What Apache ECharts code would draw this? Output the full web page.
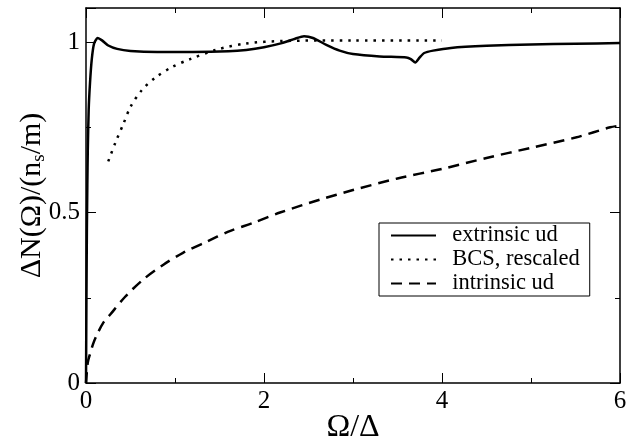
<!DOCTYPE html>
<html>
<head>
<meta charset="utf-8">
<script src="https://cdn.jsdelivr.net/npm/echarts@6/dist/echarts.min.js"></script>
<style>html,body{margin:0;padding:0;background:#fff;}#c{width:639px;height:441px;}</style>
</head>
<body>
<div id="c"></div>
<script>
// extrinsic ud
var extX = [0, 0.005, 0.01, 0.015, 0.02, 0.03, 0.045, 0.065, 0.09, 0.13, 0.18, 0.25, 0.35, 0.5, 0.8, 1.2, 1.6, 1.8, 2.0, 2.2, 2.35, 2.45, 2.55, 2.7, 2.85, 3.0, 3.3, 3.6, 3.65, 3.7, 3.75, 3.8, 3.9, 4.1, 4.5, 5.0, 5.5, 6.0];
var extY = [0, 0.25, 0.45, 0.58, 0.68, 0.8, 0.88, 0.95, 0.995, 1.012, 1.005, 0.99, 0.98, 0.974, 0.971, 0.971, 0.973, 0.977, 0.985, 0.997, 1.01, 1.017, 1.012, 0.992, 0.975, 0.965, 0.958, 0.955, 0.95, 0.94, 0.955, 0.968, 0.975, 0.983, 0.989, 0.993, 0.995, 0.997];
// BCS, rescaled
var bcsX = [0.25, 0.33, 0.42, 0.5, 0.63, 0.78, 0.96, 1.17, 1.47, 1.8, 2.2, 3.0, 4.0];
var bcsY = [0.65, 0.705, 0.76, 0.81, 0.86, 0.896, 0.926, 0.95, 0.978, 0.996, 1.003, 1.005, 1.005];
// intrinsic ud
var intX = [0, 0.02, 0.045, 0.08, 0.12, 0.19, 0.27, 0.44, 0.64, 0.87, 1.09, 1.36, 1.6, 1.88, 2.18, 2.63, 3.0, 3.5, 4.0, 4.5, 5.0, 5.5, 5.89, 6.0];
var intY = [0, 0.06, 0.085, 0.115, 0.14, 0.175, 0.2, 0.253, 0.303, 0.347, 0.382, 0.415, 0.444, 0.47, 0.5, 0.538, 0.566, 0.6, 0.628, 0.66, 0.69, 0.72, 0.75, 0.755];

var seriesNames = ['extrinsic ud', 'BCS, rescaled', 'intrinsic ud'];
var xTitle = 'Ω/Δ';

function pairs(xs, ys) { return xs.map(function (x, i) { return [x, ys[i]]; }); }

var font = 'Liberation Serif';
var chart = echarts.init(document.getElementById('c'));
var tickStyle = { color: '#000', width: 1 };
function xAx(pos, labels) {
  return {
    type: 'value', position: pos, min: 0, max: 6, interval: 2,
    axisLine: { show: true, onZero: false, lineStyle: { color: '#000', width: 1.5 } },
    axisTick: { show: true, inside: true, length: 10, lineStyle: tickStyle },
    minorTick: { show: true, splitNumber: 2, length: 5, lineStyle: tickStyle },
    splitLine: { show: false }, minorSplitLine: { show: false },
    axisLabel: { show: labels, fontFamily: font, fontSize: 25, color: '#000', margin: 6 }
  };
}
function yAx(pos, labels) {
  return {
    type: 'value', position: pos, min: 0, max: 1.1, interval: 0.5,
    axisLine: { show: true, onZero: false, lineStyle: { color: '#000', width: 1.5 } },
    axisTick: { show: true, inside: true, length: 10, lineStyle: tickStyle },
    minorTick: { show: true, splitNumber: 2, length: 5, lineStyle: tickStyle },
    splitLine: { show: false }, minorSplitLine: { show: false },
    axisLabel: { show: labels, fontFamily: font, fontSize: 25, color: '#000', margin: 6,
      showMaxLabel: false,
      formatter: function (v) { return String(v); } }
  };
}
var x0 = xAx('bottom', true);
x0.name = xTitle; x0.nameLocation = 'middle'; x0.nameGap = 29; x0.nameMoveOverlap = false;
x0.nameTextStyle = { fontFamily: font, fontSize: 32, color: '#000' };
var y0 = yAx('left', true);
y0.name = 'ΔN(Ω)/(n{s|s}/m)';
y0.nameLocation = 'middle'; y0.nameGap = 37; y0.nameRotate = 90; y0.nameMoveOverlap = false;
y0.nameTextStyle = { fontFamily: font, fontSize: 30, color: '#000', lineHeight: 34,
  rich: { s: { fontFamily: font, fontSize: 19, color: '#000', lineHeight: 14, verticalAlign: 'bottom' } } };
var x1 = xAx('top', false);
var y1 = yAx('right', false);

chart.setOption({
  animation: false,
  backgroundColor: '#fff',
  color: ['#000', '#000', '#000'],
  grid: { left: 86, right: 19, top: 8, bottom: 58, containLabel: false, outerBoundsMode: 'none' },
  xAxis: [x0, x1],
  yAxis: [y0, y1],
  legend: {
    data: seriesNames, orient: 'vertical', left: 379, top: 223,
    padding: [1, 10, 1, 11], itemGap: 1, itemWidth: 45, itemHeight: 14,
    borderColor: '#000', borderWidth: 1, backgroundColor: '#fff', borderRadius: 0,
    itemStyle: { opacity: 0 },
    formatter: function (n) { return '  ' + n; },
    textStyle: { fontFamily: font, fontSize: 22.5, color: '#000', lineHeight: 22 }
  },
  series: [
    { name: seriesNames[0], type: 'line', data: pairs(extX, extY), symbol: 'none', smooth: 0.2,
      itemStyle: { color: '#000' }, lineStyle: { color: '#000', width: 2.5 }, z: 3 },
    { name: seriesNames[1], type: 'line', data: pairs(bcsX, bcsY), symbol: 'none', smooth: 0.3,
      itemStyle: { color: '#000' }, lineStyle: { color: '#000', width: 2.5, type: [2.5, 6] } },
    { name: seriesNames[2], type: 'line', data: pairs(intX, intY), symbol: 'none', smooth: 0.3,
      itemStyle: { color: '#000' }, lineStyle: { color: '#000', width: 2.5, type: [11, 7] } }
  ]
});
</script>
</body>
</html>
